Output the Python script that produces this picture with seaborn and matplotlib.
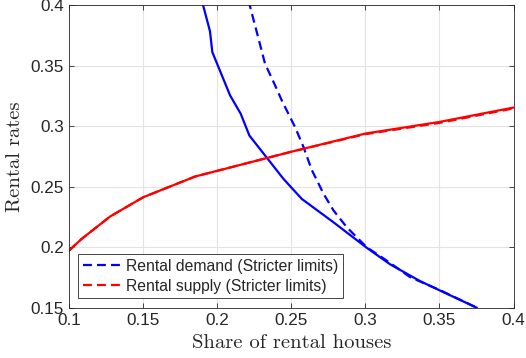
import matplotlib
matplotlib.use("Agg")
import matplotlib.pyplot as plt
from matplotlib.lines import Line2D
import seaborn as sns
import pandas as pd

# Rental supply curves (share of rental houses -> rental rate)
supply_share = [0.10, 0.1084, 0.1275, 0.15, 0.185, 0.25, 0.30, 0.35, 0.40]
supply_rate = [0.1975, 0.207, 0.2254, 0.2414, 0.2585, 0.279, 0.294, 0.3036, 0.3155]

strict_supply_share = [0.10, 0.1084, 0.1275, 0.15, 0.185, 0.25, 0.30, 0.35, 0.40]
strict_supply_rate = [0.1975, 0.207, 0.2254, 0.2414, 0.2585, 0.279, 0.2935, 0.3028, 0.3148]

# Rental demand curves
demand_share = [0.1895, 0.195, 0.1966, 0.2086, 0.2158, 0.2216, 0.2322, 0.2446,
                0.257, 0.2784, 0.3009, 0.3166, 0.337, 0.3505, 0.3753]
demand_rate = [0.404, 0.3786, 0.3613, 0.3255, 0.3103, 0.2924, 0.2759, 0.2566,
               0.24, 0.2207, 0.1996, 0.186, 0.172, 0.1642, 0.1500]

strict_demand_share = [0.221, 0.2266, 0.2322, 0.239, 0.2435, 0.248, 0.2525,
                       0.2581, 0.2638, 0.2716, 0.2784, 0.2874, 0.3009, 0.3144,
                       0.3302, 0.3505, 0.3753]
strict_demand_rate = [0.404, 0.378, 0.3517, 0.3338, 0.3214, 0.3103, 0.2993,
                      0.2831, 0.2638, 0.2445, 0.2305, 0.2166, 0.2, 0.189,
                      0.1753, 0.1645, 0.1500]

x_ticks = [0.1, 0.15, 0.2, 0.25, 0.3, 0.35, 0.4]
y_ticks = [0.15, 0.2, 0.25, 0.3, 0.35, 0.4]
x_ticklabels = ["0.1", "0.15", "0.2", "0.25", "0.3", "0.35", "0.4"]
y_ticklabels = ["0.15", "0.2", "0.25", "0.3", "0.35", "0.4"]

sns.set_theme(style="white")
plt.rcParams["font.family"] = ["Liberation Sans", "DejaVu Sans"]

axis_color = "#262626"
fig = plt.figure(figsize=(5.26, 3.58), dpi=100)
ax = fig.add_axes([69.3 / 526, (358 - 307.8) / 358, 444.2 / 526, 302.5 / 358])

dash = (0, (4, 2.3))
lw = 1.6

def curve(xs, ys, color, style):
    df = pd.DataFrame({"share": xs, "rate": ys})
    sns.lineplot(data=df, x="share", y="rate", ax=ax, color=color, sort=False,
                 estimator=None, linewidth=lw, linestyle=style, legend=False)

curve(demand_share, demand_rate, "#0000ff", "-")
curve(supply_share, supply_rate, "#ff0000", "-")
curve(strict_demand_share, strict_demand_rate, "#0000ff", dash)
curve(strict_supply_share, strict_supply_rate, "#ff0000", dash)

ax.set_xlim(0.1, 0.4)
ax.set_ylim(0.15, 0.4)
ax.set_xticks(x_ticks)
ax.set_yticks(y_ticks)
ax.set_xticklabels(x_ticklabels)
ax.set_yticklabels(y_ticklabels)
ax.grid(True, color="#e3e3e3", linewidth=0.8)
ax.set_axisbelow(True)

for s in ax.spines.values():
    s.set_visible(True)
    s.set_color(axis_color)
    s.set_linewidth(0.6)
ax.tick_params(axis="both", which="major", direction="in", length=3.5, width=0.6,
               color=axis_color, labelcolor=axis_color, labelsize=12.3,
               top=True, right=True, bottom=True, left=True, pad=4)

ax.set_xlabel("Share of rental houses", family="cmr10", fontsize=14.8,
              color=axis_color, labelpad=4)
ax.set_ylabel("Rental rates", family="cmr10", fontsize=14.8,
              color=axis_color, labelpad=5)

handles = [Line2D([], [], color="#0000ff", linewidth=lw, linestyle=dash),
           Line2D([], [], color="#ff0000", linewidth=lw, linestyle=dash)]
leg = ax.legend(handles, ["Rental demand (Stricter limits)", "Rental supply (Stricter limits)"],
                loc="lower left", bbox_to_anchor=(0.0203, 0.0314), borderaxespad=0,
                fontsize=11.3, frameon=True, fancybox=False, framealpha=1,
                edgecolor=axis_color, handlelength=2.4, handletextpad=0.35,
                labelspacing=0.3, borderpad=0.3)
leg.get_frame().set_linewidth(0.6)
for t in leg.get_texts():
    t.set_color(axis_color)

fig.savefig("out.png", dpi=100)
